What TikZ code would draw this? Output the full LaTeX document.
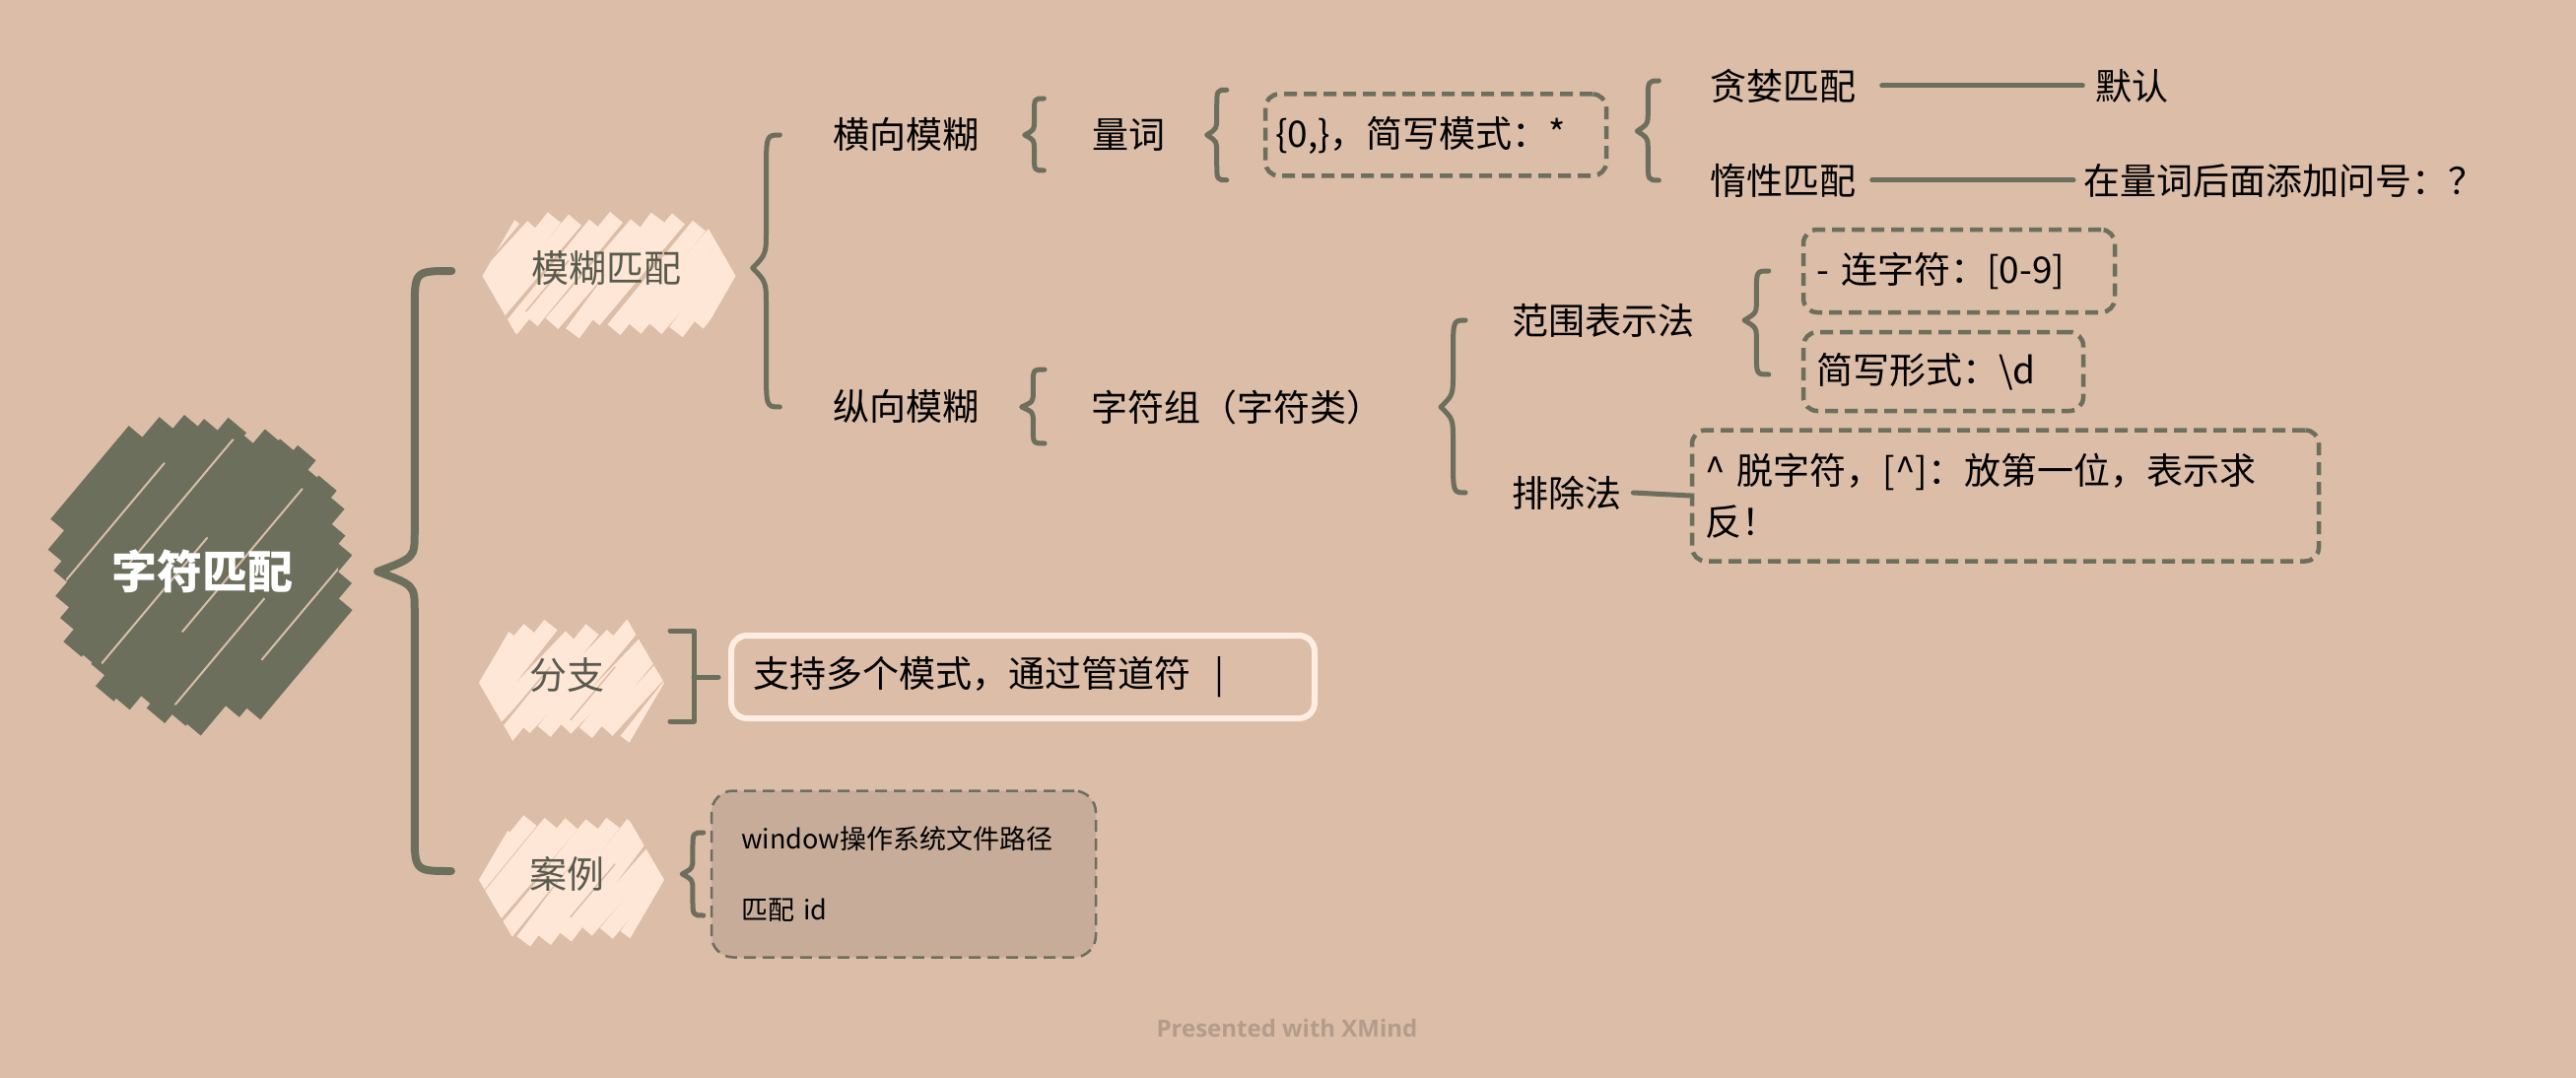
\documentclass[tikz,border=0pt]{standalone}
\usepackage{fontspec}
\setmainfont{Noto Sans CJK SC}
\newfontfamily\wmfont{Open Sans}
\usetikzlibrary{calc}
\definecolor{bg}{HTML}{DBBDA8}
\definecolor{gr}{HTML}{6B6F5C}
\definecolor{cream}{HTML}{FFE7D7}
\definecolor{creamline}{HTML}{FFEDE1}
\definecolor{casefill}{HTML}{C6AC99}
\definecolor{lvlone}{HTML}{585B4D}
\definecolor{wm}{HTML}{B49C8B}

\tikzset{
  brc/.style={draw=gr, line width=5pt, line cap=round, line join=round},
  cline/.style={draw=gr, line width=5pt, line cap=round},
  txt/.style={font=\fontsize{37}{44}\selectfont, text=black, inner sep=0pt},
  lone/.style={font=\fontsize{38}{44}\selectfont, text=lvlone, inner sep=0pt},
  dbox/.style={draw=gr, line width=4.5pt, dash pattern=on 13pt off 7pt, rounded corners=14pt,
     font=\fontsize{37}{44}\selectfont, text=black, inner sep=8pt},
}

% curly brace: #2 vertex, #3 top end, #4 bottom end
\newcommand{\cbrace}[4][]{%
  \draw[brc,#1] let \p1=(#2), \p2=(#3), \p3=(#4),
     \n1={0.5*(\x2-\x1)}, \n2={min(40,0.2*(\y2-\y3))} in
   (\p2) .. controls (\x1+\n1,\y2) .. (\x1+\n1,\y2-\n2)
   -- (\x1+\n1,\y1+\n2)
   .. controls (\x1+\n1,\y1+0.35*\n2) .. (\p1)
   .. controls (\x1+\n1,\y1-0.35*\n2) .. (\x1+\n1,\y1-\n2)
   -- (\x1+\n1,\y3+\n2)
   .. controls (\x1+\n1,\y3) .. (\p3);}

% scribbled hexagon: cx cy W H colour
\newcommand{\scrib}[5]{%
 \begin{scope}
  \clip (#1-#3/2,#2) -- (#1-#3/2+0.4*#4,#2-0.5*#4-20) -- (#1+#3/2-0.4*#4,#2-0.5*#4-20)
     -- (#1+#3/2,#2) -- (#1+#3/2-0.4*#4,#2+0.5*#4+20) -- (#1-#3/2+0.4*#4,#2+0.5*#4+20) -- cycle;
  \pgfmathtruncatemacro\nn{(#3+0.84*#4)/21}
  \foreach \i in {0,...,\nn}{
    \pgfmathsetmacro\xa{#1-#3/2-0.84*#4+\i*21+10}
    \pgfmathsetmacro\jb{rnd*18-9}
    \pgfmathsetmacro\jt{rnd*18-9}
    \draw[#5, line width=17pt] (\xa,#2+0.5*#4+\jb) -- (\xa+0.84*#4,#2-0.5*#4+\jt);
  }
  \foreach \k in {0.25,0.6}{
    \draw[bg, line width=1.5pt] (#1-#3/2+\k*#3-20,#2+0.35*#4) -- ++(0.84*#4*0.5,-0.5*#4);
  }
 \end{scope}}

\begin{document}
\begin{tikzpicture}[x=1pt,y=-1pt]
\pgfmathsetseed{11}
\path[use as bounding box, fill=bg] (0,0) rectangle (2614,1094);

% root scribble
\begin{scope}[shift={(205,580)}, rotate=50]
 \foreach \d in {-140,-122,...,140}{
   \pgfmathsetmacro\L{100*sqrt(2.25-(\d/100)^2)}
   \pgfmathsetmacro\la{\L+rnd*26-13}
   \pgfmathsetmacro\lb{\L+rnd*26-13}
   \draw[gr, line width=24pt] (-\la,\d) -- (\lb,\d);
 }
 \begin{scope}
  \clip (0,0) circle (138);
  \foreach \d/\a/\b in {-100/-120/60, -62/-40/140, -18/-150/30, 24/-60/130, 66/-140/20, 104/-30/120}{
    \draw[bg, line width=2pt] (\a,\d) -- (\b,\d);
  }
 \end{scope}
\end{scope}

% level-one scribbles
\scrib{618}{280}{257}{103}{cream}
\scrib{580}{693}{188}{108}{cream}
\scrib{580}{893}{188}{108}{cream}

% nodes
\node[circle, minimum size=300pt, inner sep=0pt, font=\fontsize{46}{54}\selectfont\bfseries, text=white] (root) at (205,580) {字符匹配};
\node[lone, minimum width=157pt] (fz) at (615,272) {模糊匹配};
\node[lone, minimum width=80pt] (fzz) at (575,685) {分支};
\node[lone, minimum width=80pt] (al) at (575,887) {案例};

\node[txt, minimum width=155pt] (hx) at (919,137) {横向模糊};
\node[txt, minimum width=77pt] (lc) at (1145,137) {量词};
\node[dbox, minimum height=83pt, text width=326pt, inner xsep=10pt, align=left] (b1) at (1457,137) {\{0,\}，简写模式：*};
\node[txt, minimum width=151pt] (tl) at (1809,87) {贪婪匹配};
\node[txt, minimum width=75pt] (mr) at (2163,87) {默认};
\node[txt, minimum width=151pt] (dx) at (1809,183) {惰性匹配};
\node[txt, anchor=west] (zj) at (2114,183) {在量词后面添加问号：？};

\node[txt, minimum width=155pt] (zx) at (919,413) {纵向模糊};
\node[txt, anchor=west] (zf) at (1107,413) {字符组（字符类）};
\node[txt, anchor=west] (fw) at (1534,325) {范围表示法};
\node[dbox, minimum height=84pt, text width=290pt, inner xsep=13pt, align=left] (b2) at (1988,275) {- 连字符：[0-9]};
\node[dbox, minimum height=80pt, text width=258pt, inner xsep=13pt, align=left] (b3) at (1972,377) {简写形式：\textbackslash d};
\node[txt, anchor=west] (pc) at (1534,500) {排除法};
\node[dbox, minimum height=133pt, text width=610pt, inner xsep=13pt, align=left,
      font=\fontsize{37}{52}\selectfont] (b4) at (2035,503)
      {\textasciicircum\ 脱字符，[\textasciicircum]：放第一位，表示求\\反！};

\node[txt, draw=creamline, line width=6pt, rounded corners=16pt, text width=548pt, align=left,
      inner xsep=22pt, inner ysep=0pt, minimum height=84pt] (b5) at (1038,687) {支持多个模式，通过管道符 ~|};

\node[draw=gr, fill=casefill, line width=2.5pt, dash pattern=on 12pt off 7pt, rounded corners=22pt,
      minimum width=385pt, minimum height=169pt, text width=330pt, align=left, inner xsep=30pt,
      font=\fontsize{27}{72}\selectfont, text=black] (b6) at (917,887)
      {window操作系统文件路径\\匹配 id};

% braces
\cbrace[line width=8pt]{$(root.east)+(28,0)$}{$(fz.west)+(-78,3)$}{$(al.west)+(-77,-3)$}
\cbrace{$(fz.east)+(70,0)$}{$(hx.west)+(-50,0)$}{$(zx.west)+(-50,0)$}
\cbrace{$(hx.east)+(43,0)$}{$(lc.west)+(-47,-37)$}{$(lc.west)+(-47,36)$}
\cbrace{$(lc.east)+(41,0)$}{$(b1.north west)+(-37,-2)$}{$(b1.south west)+(-37,2)$}
\cbrace{$(b1.east)+(29,-4)$}{$(tl.west)+(-50,-5)$}{$(dx.west)+(-50,0)$}
\cbrace{$(zx.east)+(40,0)$}{$(zf.west)+(-47,-38)$}{$(zf.west)+(-47,37)$}
\cbrace{$(zf.west)+(355,0)$}{$(fw.west)+(-47,0)$}{$(pc.west)+(-47,0)$}
\cbrace{$(fw.west)+(236,0)$}{$(b2.west)+(-33,0)$}{$(b3.west)+(-33,3)$}
\cbrace{$(al.east)+(77,0)$}{$(b6.west)+(-7,-42)$}{$(b6.west)+(-7,42)$}

% bracket for 分支
\coordinate (fzv) at ($(b5.west)+(-35,0)$);
\draw[brc] ($(fzv)+(-24,-47)$) -- ($(fzv)+(0,-47)$) -- ($(fzv)+(0,45)$) -- ($(fzv)+(-24,45)$);
\draw[brc] (fzv) -- ($(b5.west)+(-10,0)$);

% connector lines
\draw[cline] ($(tl.east)+(25,0)$) -- ($(mr.west)+(-12,0)$);
\draw[cline] ($(dx.east)+(15,0)$) -- ($(zj.west)+(-10,0)$);
\draw[cline] ($(pc.east)+(12,0)$) -- (b4.west);

% watermark
\node[font=\wmfont\bfseries\fontsize{24}{28}\selectfont, text=wm] (wmk) at (1306,1043) {Presented with XMind};
\end{tikzpicture}
\end{document}
